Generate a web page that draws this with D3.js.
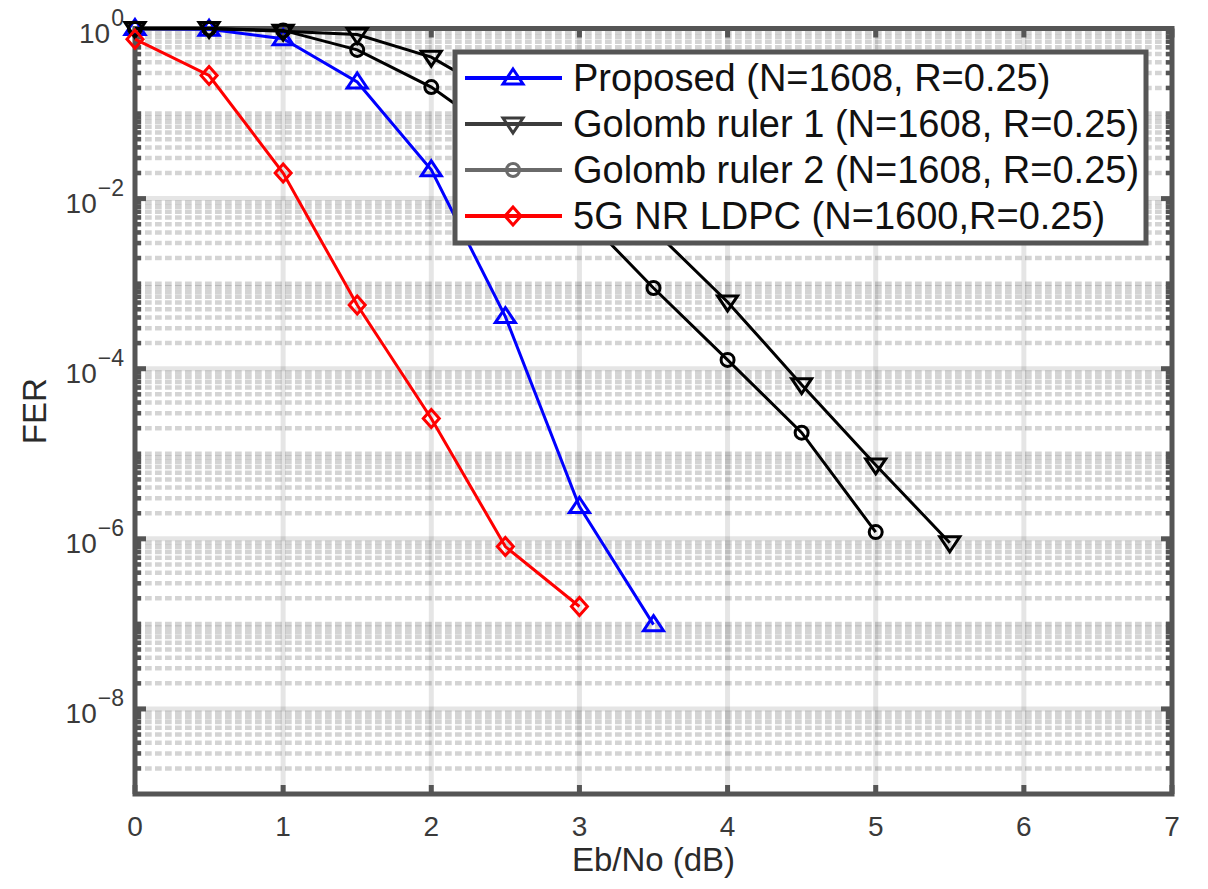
<!DOCTYPE html>
<html>
<head>
<meta charset="utf-8">
<script src="https://cdn.jsdelivr.net/npm/d3@7"></script>
<style>
    html, body { margin: 0; padding: 0; background: #fff; }
    svg { display: block; font-family: "Liberation Sans", Arial, sans-serif; }
</style>
</head>
<body>
<div id="chart"></div>
<script>
// FER 曲线数据
const EBNO_PROPOSED = [0, 0.5, 1, 1.5, 2, 2.5, 3, 3.5];
const FER_PROPOSED = [1.0, 0.98, 0.76, 0.235, 0.0218, 4.1e-4, 2.4e-6, 9.8e-8];

const EBNO_GOLOMB1 = [0, 0.5, 1, 1.5, 2, 2.5, 3, 3.5, 4, 4.5, 5, 5.5];
const FER_GOLOMB1 = [1.0, 1.0, 0.93, 0.85, 0.46, 0.145, 0.0285, 4.3e-3, 6.1e-4, 6.5e-5, 7.4e-6, 9.0e-7];

const EBNO_GOLOMB2 = [0, 0.5, 1, 1.5, 2, 2.5, 3, 3.5, 4, 4.5, 5];
const FER_GOLOMB2 = [1.0, 1.0, 0.95, 0.56, 0.205, 0.049, 7.0e-3, 8.9e-4, 1.27e-4, 1.77e-5, 1.2e-6];

const EBNO_LDPC = [0, 0.5, 1, 1.5, 2, 2.5, 3];
const FER_LDPC = [0.75, 0.28, 0.02, 5.6e-4, 2.6e-5, 8.1e-7, 1.6e-7];

const SERIES_NAMES = [
    'Proposed (N=1608, R=0.25)',
    'Golomb ruler 1 (N=1608, R=0.25)',
    'Golomb ruler 2 (N=1608, R=0.25)',
    '5G NR LDPC (N=1600,R=0.25)'
];

// 坐标轴刻度
const X_TICKS = [0, 1, 2, 3, 4, 5, 6, 7];
const Y_TICK_EXPONENTS = [0, -2, -4, -6, -8];
const X_LABEL = 'Eb/No (dB)';
const Y_LABEL = 'FER';

// 标记形状
const MARKERS = {
    triUp: 'M0,-9L10,6L-10,6Z',
    triDown: 'M0,9L10,-6L-10,-6Z',
    circle: 'M6.5,0A6.5,6.5 0 1,1 -6.5,0A6.5,6.5 0 1,1 6.5,0Z',
    diamond: 'M0,-9L8,0L0,9L-8,0Z'
};

function drawChart() {
    const width = 1208;
    const height = 889;
    const plot = { left: 135, right: 1172, top: 28.5, bottom: 794 };

    const svg = d3.select('#chart')
        .append('svg')
        .attr('width', width)
        .attr('height', height);

    const xScale = d3.scaleLinear()
        .domain([0, 7])
        .range([plot.left, plot.right]);

    const yScale = d3.scaleLog()
        .domain([1e-9, 1])
        .range([plot.bottom, plot.top]);

    // 次网格（虚线）
    const minorVals = [];
    for (let k = -9; k <= -1; k++) {
        for (let m = 1; m <= 9; m++) {
            if (m === 1 && (k % 2 === 0 || k === -9)) continue;
            minorVals.push(m * Math.pow(10, k));
        }
    }

    const grid = svg.append('g').attr('class', 'grid');

    grid.selectAll('.minor')
        .data(minorVals)
        .enter()
        .append('line')
        .attr('class', 'minor')
        .attr('x1', plot.left)
        .attr('x2', plot.right)
        .attr('y1', d => yScale(d))
        .attr('y2', d => yScale(d))
        .attr('stroke', '#000')
        .attr('stroke-opacity', 0.17)
        .attr('stroke-width', 4.5)
        .attr('stroke-dasharray', '6.7,3.3');

    // 主网格
    grid.selectAll('.major-x')
        .data(X_TICKS.slice(1, -1))
        .enter()
        .append('line')
        .attr('class', 'major-x')
        .attr('x1', d => xScale(d))
        .attr('x2', d => xScale(d))
        .attr('y1', plot.top)
        .attr('y2', plot.bottom)
        .attr('stroke', '#000')
        .attr('stroke-opacity', 0.1)
        .attr('stroke-width', 5);

    grid.selectAll('.major-y')
        .data(Y_TICK_EXPONENTS.slice(1))
        .enter()
        .append('line')
        .attr('class', 'major-y')
        .attr('x1', plot.left)
        .attr('x2', plot.right)
        .attr('y1', d => yScale(Math.pow(10, d)))
        .attr('y2', d => yScale(Math.pow(10, d)))
        .attr('stroke', '#000')
        .attr('stroke-opacity', 0.1)
        .attr('stroke-width', 5);

    // 坐标轴（刻度朝内）
    const axisColor = '#555';
    const axes = svg.append('g').attr('class', 'axes');

    const majorVals = Y_TICK_EXPONENTS.map(e => Math.pow(10, e));
    [[plot.left, 1], [plot.right, -1]].forEach(([x0, dir]) => {
        axes.selectAll(null)
            .data(minorVals)
            .enter()
            .append('line')
            .attr('x1', x0)
            .attr('x2', x0 + dir * 6)
            .attr('y1', d => yScale(d))
            .attr('y2', d => yScale(d))
            .attr('stroke', axisColor)
            .attr('stroke-width', 4.5);
        axes.selectAll(null)
            .data(majorVals)
            .enter()
            .append('line')
            .attr('x1', x0)
            .attr('x2', x0 + dir * 11)
            .attr('y1', d => yScale(d))
            .attr('y2', d => yScale(d))
            .attr('stroke', axisColor)
            .attr('stroke-width', 5);
    });

    [[plot.bottom, -1], [plot.top, 1]].forEach(([y0, dir]) => {
        axes.selectAll(null)
            .data(X_TICKS)
            .enter()
            .append('line')
            .attr('x1', d => xScale(d))
            .attr('x2', d => xScale(d))
            .attr('y1', y0)
            .attr('y2', y0 + dir * 9)
            .attr('stroke', axisColor)
            .attr('stroke-width', 5);
    });

    axes.append('rect')
        .attr('x', plot.left)
        .attr('y', plot.top)
        .attr('width', plot.right - plot.left)
        .attr('height', plot.bottom - plot.top)
        .attr('fill', 'none')
        .attr('stroke', axisColor)
        .attr('stroke-width', 5);

    // 刻度标签
    axes.selectAll('.xlabel')
        .data(X_TICKS)
        .enter()
        .append('text')
        .attr('class', 'xlabel')
        .attr('x', d => xScale(d))
        .attr('y', 836)
        .attr('text-anchor', 'middle')
        .style('font-size', '28px')
        .style('fill', '#3a3a3a')
        .text(d => d);

    const yLabels = axes.selectAll('.ylabel')
        .data(Y_TICK_EXPONENTS)
        .enter()
        .append('text')
        .attr('class', 'ylabel')
        .attr('x', 124)
        .attr('y', d => yScale(Math.pow(10, d)) + 14)
        .attr('text-anchor', 'end')
        .style('fill', '#3a3a3a');
    yLabels.append('tspan')
        .style('font-size', '28px')
        .text('10');
    yLabels.append('tspan')
        .attr('dy', -17)
        .attr('dx', 1)
        .style('font-size', '23px')
        .text(d => d === 0 ? '0' : '\u2212' + Math.abs(d));

    // 轴标题
    svg.append('text')
        .attr('x', (plot.left + plot.right) / 2)
        .attr('y', 871)
        .attr('text-anchor', 'middle')
        .style('font-size', '33px')
        .style('fill', '#2a2a2a')
        .text(X_LABEL);

    svg.append('text')
        .attr('transform', `translate(46,${(plot.top + plot.bottom) / 2}) rotate(-90)`)
        .attr('text-anchor', 'middle')
        .style('font-size', '33px')
        .style('fill', '#2a2a2a')
        .text(Y_LABEL);

    // 曲线
    const series = [
        { x: EBNO_PROPOSED, y: FER_PROPOSED, color: '#0000ff', legendColor: '#0000ff', marker: 'triUp' },
        { x: EBNO_GOLOMB1, y: FER_GOLOMB1, color: '#000', legendColor: '#3c3c3c', marker: 'triDown' },
        { x: EBNO_GOLOMB2, y: FER_GOLOMB2, color: '#000', legendColor: '#6a6a6a', marker: 'circle' },
        { x: EBNO_LDPC, y: FER_LDPC, color: '#ff0000', legendColor: '#ff0000', marker: 'diamond' }
    ];

    const line = d3.line()
        .x(d => xScale(d[0]))
        .y(d => yScale(d[1]));

    const curves = svg.append('g').attr('class', 'curves');
    series.forEach(s => {
        const pts = s.x.map((v, i) => [v, s.y[i]]);
        curves.append('path')
            .datum(pts)
            .attr('d', line)
            .attr('fill', 'none')
            .attr('stroke', s.color)
            .attr('stroke-width', 3);
        curves.selectAll(null)
            .data(pts)
            .enter()
            .append('path')
            .attr('transform', d => `translate(${xScale(d[0])},${yScale(d[1])})`)
            .attr('d', MARKERS[s.marker])
            .attr('fill', 'none')
            .attr('stroke', s.color)
            .attr('stroke-width', 3);
    });

    // 图例
    const legend = svg.append('g').attr('class', 'legend');
    legend.append('rect')
        .attr('x', 455)
        .attr('y', 52)
        .attr('width', 691)
        .attr('height', 191)
        .attr('fill', '#fff')
        .attr('stroke', axisColor)
        .attr('stroke-width', 5);

    const rows = legend.selectAll('.row')
        .data(series)
        .enter()
        .append('g')
        .attr('class', 'row')
        .attr('transform', (d, i) => `translate(0,${78 + i * 46})`);

    rows.append('line')
        .attr('x1', 465)
        .attr('x2', 562)
        .attr('stroke', d => d.legendColor)
        .attr('stroke-width', 4);

    rows.append('path')
        .attr('transform', 'translate(513,0)')
        .attr('d', d => MARKERS[d.marker])
        .attr('fill', 'none')
        .attr('stroke', d => d.legendColor)
        .attr('stroke-width', 3);

    rows.append('text')
        .attr('x', 573)
        .attr('y', 13)
        .style('font-size', '38px')
        .style('fill', '#111')
        .text((d, i) => SERIES_NAMES[i]);
}

document.addEventListener('DOMContentLoaded', drawChart);
</script>
</body>
</html>
